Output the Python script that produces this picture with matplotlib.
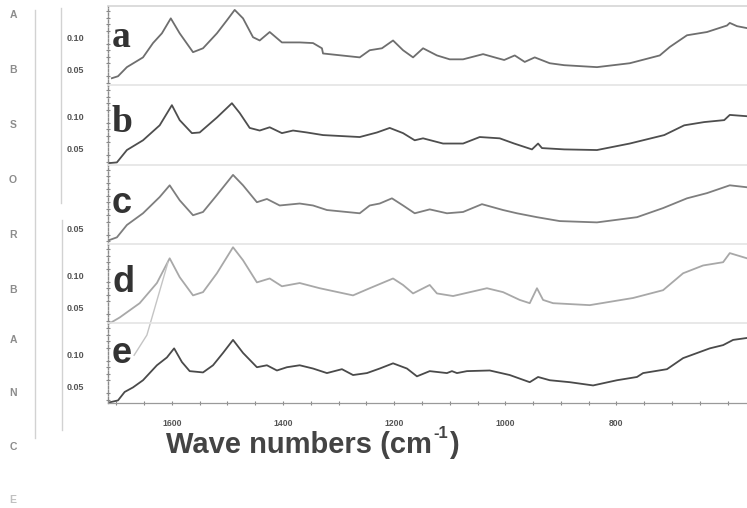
import matplotlib
matplotlib.use("Agg")
import matplotlib.pyplot as plt
from matplotlib.lines import Line2D
from matplotlib.ticker import MultipleLocator, FixedLocator

plt.rcParams['font.family'] = ['Liberation Sans', 'DejaVu Sans']

# ---------------- data (wavenumber cm-1, absorbance) ----------------
wn_a = [1708,1697,1681,1652,1634,1618,1602,1586,1562,1544,1519,1501,1487,1472,1454,1442,1424,1402,1370,1346,
        1330,1328,1262,1244,1222,1202,1184,1166,1148,1123,1100,1076,1040,1015,1002,983,965,947,920,894,
        835,776,722,704,673,637,601,596,583,565]
abs_a = [0.037,0.040,0.054,0.069,0.091,0.106,0.129,0.106,0.077,0.083,0.106,0.126,0.142,0.129,0.100,0.095,0.108,0.092,0.092,0.091,
         0.083,0.075,0.069,0.080,0.083,0.095,0.080,0.069,0.083,0.072,0.066,0.066,0.074,0.068,0.065,0.072,0.062,0.069,0.060,0.057,
         0.054,0.060,0.072,0.085,0.103,0.108,0.118,0.122,0.117,0.114]

wn_b = [1712,1699,1681,1652,1622,1600,1586,1564,1550,1519,1492,1478,1460,1442,1424,1402,1382,1357,1328,1262,
        1231,1208,1184,1163,1148,1112,1076,1046,1010,984,952,941,934,894,835,776,714,678,642,606,596,565]
abs_b = [0.028,0.029,0.048,0.063,0.086,0.117,0.094,0.074,0.075,0.098,0.120,0.105,0.082,0.078,0.083,0.074,0.078,0.075,0.071,0.068,
         0.075,0.082,0.074,0.063,0.066,0.058,0.058,0.068,0.066,0.058,0.049,0.058,0.051,0.049,0.048,0.058,0.071,0.086,0.091,0.094,
         0.102,0.100]

wn_c = [1712,1699,1681,1652,1622,1604,1586,1562,1544,1519,1490,1472,1447,1429,1406,1370,1346,1321,1262,1244,
        1226,1204,1184,1163,1136,1105,1076,1042,1004,979,943,902,835,763,716,673,637,596,565]
abs_c = [0.032,0.036,0.055,0.073,0.098,0.116,0.093,0.070,0.075,0.101,0.132,0.116,0.090,0.095,0.085,0.088,0.085,0.078,0.073,0.085,
         0.088,0.096,0.085,0.073,0.079,0.073,0.075,0.087,0.078,0.073,0.067,0.061,0.059,0.067,0.081,0.096,0.104,0.116,0.113]

wn_d = [1712,1694,1658,1627,1604,1586,1562,1544,1519,1490,1472,1447,1424,1402,1370,1334,1274,1244,1202,1184,
        1166,1136,1123,1094,1033,1004,974,956,943,932,914,848,770,716,680,644,608,596,565]
abs_d = [0.026,0.035,0.057,0.088,0.126,0.097,0.069,0.074,0.103,0.143,0.123,0.089,0.095,0.083,0.088,0.080,0.069,0.080,0.095,0.085,
         0.072,0.085,0.072,0.068,0.080,0.074,0.062,0.057,0.080,0.062,0.057,0.054,0.065,0.077,0.103,0.115,0.120,0.134,0.126]
# faint stray trace crossing panel d
wn_streak = [1668, 1645, 1607]
abs_streak = [-0.023, 0.008, 0.120]

wn_e = [1712,1697,1685,1670,1652,1627,1609,1596,1582,1568,1544,1526,1508,1490,1472,1447,1429,1411,1393,1370,
        1346,1321,1294,1274,1249,1226,1202,1177,1159,1136,1105,1096,1087,1069,1028,992,956,941,920,884,
        842,799,763,752,709,680,632,608,590,565]
abs_e = [0.026,0.029,0.042,0.049,0.060,0.083,0.095,0.109,0.088,0.074,0.072,0.083,0.102,0.122,0.102,0.080,0.083,0.075,0.080,0.083,
         0.078,0.071,0.077,0.068,0.071,0.078,0.086,0.078,0.066,0.074,0.071,0.074,0.071,0.074,0.075,0.068,0.057,0.065,0.060,0.057,
         0.052,0.060,0.065,0.071,0.077,0.094,0.109,0.114,0.122,0.125]

panel_labels = ['a', 'b', 'c', 'd', 'e']
series_wn = [wn_a, wn_b, wn_c, wn_d, wn_e]
series_abs = [abs_a, abs_b, abs_c, abs_d, abs_e]
ytick_sets = [[0.05, 0.10], [0.05, 0.10], [0.05], [0.05, 0.10], [0.05, 0.10]]
xticks = [1600, 1400, 1200, 1000, 800]
side_letters = list("ABSORBANCE")
xlabel_main = "Wave numbers (cm"
xlabel_sup = "-1"
xlabel_close = ")"

# ---------------- style / layout ----------------
W, H = 747, 508
fig = plt.figure(figsize=(W / 100, H / 100), dpi=100)
fig.patch.set_facecolor('white')

def fx(px):
    return px / W

def fy(py):
    return 1 - py / H

line_colors = ['#6e6e6e', '#4e4e4e', '#7e7e7e', '#a8a8a8', '#4a4a4a']
panel_tops = [6, 85, 164.5, 244, 323]
panel_h = 80
left_px = 108
ylim = (0.025, 0.148)
xlim = (1715, 565)

axes = []
for i in range(5):
    top = panel_tops[i]
    ax = fig.add_axes([fx(left_px), fy(top + panel_h), fx(W - left_px), panel_h / H])
    ax.patch.set_alpha(0)
    ax.plot(series_wn[i], series_abs[i], color=line_colors[i], lw=1.3)
    ax.set_xlim(*xlim)
    ax.set_ylim(*ylim)
    ax.spines['right'].set_visible(False)
    ax.spines['top'].set_color('#e4e4e4' if i else '#d6d6d6')
    ax.spines['top'].set_linewidth(1.2)
    ax.spines['left'].set_color('#8a8a8a')
    ax.spines['left'].set_linestyle((0, (1.5, 1.2)))
    ax.spines['left'].set_linewidth(1.0)
    ax.yaxis.set_major_locator(FixedLocator(ytick_sets[i]))
    ax.yaxis.set_minor_locator(MultipleLocator(0.01))
    ax.set_yticklabels(['%.2f' % v for v in ytick_sets[i]])
    ax.tick_params(axis='y', which='major', length=0, pad=17, labelsize=6.5,
                   labelcolor='#555555')
    ax.tick_params(axis='y', which='minor', length=2.5, width=0.8, color='#888888',
                   direction='inout')
    for lab in ax.get_yticklabels():
        lab.set_fontweight('bold')
    if i < 4:
        ax.spines['bottom'].set_visible(False)
        ax.tick_params(axis='x', which='both', bottom=False, labelbottom=False)
    else:
        ax.spines['bottom'].set_color('#9a9a9a')
        ax.spines['bottom'].set_linewidth(0.9)
        ax.xaxis.set_major_locator(FixedLocator(xticks))
        ax.xaxis.set_minor_locator(MultipleLocator(50))
        ax.set_xticklabels([str(v) for v in xticks])
        ax.tick_params(axis='x', which='major', length=2.5, width=0.8, color='#888888',
                       direction='inout', pad=10, labelsize=6.2, labelcolor='#555555')
        ax.tick_params(axis='x', which='minor', length=2.5, width=0.8, color='#888888',
                       direction='inout')
        for lab in ax.get_xticklabels():
            lab.set_fontweight('bold')
    axes.append(ax)

# stray trace in panel d
axes[3].plot(wn_streak, abs_streak, color='#c4c4c4', lw=1.0, clip_on=False)

# panel letters
letter_baselines = [47, 132, 213, 292, 363]
for i, lab in enumerate(panel_labels):
    fam = ['Liberation Serif', 'DejaVu Serif'] if i < 2 else ['Liberation Sans', 'DejaVu Sans']
    fig.text(fx(112), fy(letter_baselines[i]), lab, fontsize=27 if i < 2 else 26,
             fontweight='bold', family=fam, color='#333333', ha='left', va='baseline')

# x axis title, assembled so the superscript uses a plain hyphen
renderer = fig.canvas.get_renderer()
t_main = fig.text(fx(166), fy(453), xlabel_main, fontsize=21, fontweight='bold',
                  color='#444444', ha='left', va='baseline')
bb = t_main.get_window_extent(renderer=renderer)
x_end = bb.x1  # display pixels (origin bottom-left)
t_sup = fig.text((x_end + 1) / W, fy(453 - 15), xlabel_sup, fontsize=12, fontweight='bold',
                 color='#444444', ha='left', va='baseline')
bb2 = t_sup.get_window_extent(renderer=renderer)
fig.text((bb2.x1 + 1) / W, fy(453), xlabel_close, fontsize=21, fontweight='bold',
         color='#444444', ha='left', va='baseline')

# vertical side letters "ABSORBANCE"
side_y = [15, 70, 125, 180, 235, 290, 340, 393, 447, 500]
for k, ch in enumerate(side_letters):
    fig.text(fx(13), fy(side_y[k]), ch, fontsize=7.5, fontweight='bold',
             color='#8c8c8c' if k < 9 else '#c0c0c0', ha='center', va='center')

# faint scan frame lines on the left
for (x0, y0, y1) in [(35, 10, 438), (61, 8, 203), (62, 220, 430)]:
    fig.add_artist(Line2D([fx(x0), fx(x0)], [fy(y0), fy(y1)], color='#d2d2d2', lw=1.0))

fig.savefig('out.png', dpi=100, facecolor=fig.get_facecolor())
